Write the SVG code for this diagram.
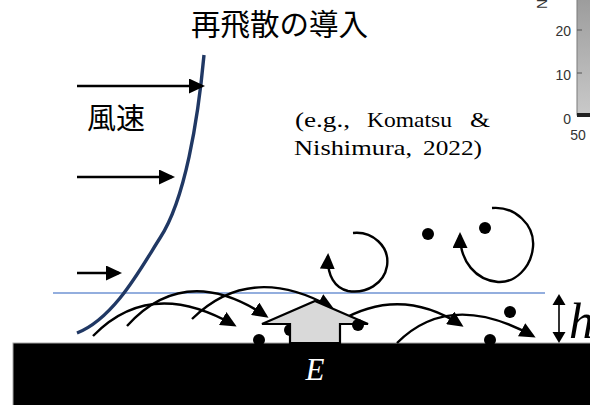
<svg xmlns="http://www.w3.org/2000/svg" width="590" height="405" viewBox="0 0 590 405">
  <style>
    .jp { font-family: "Noto Sans CJK JP", "Noto Sans CJK SC", sans-serif; fill: #000; }
    .cite { font-family: "Liberation Serif", serif; font-size: 21px; fill: #000; }
    .math { font-family: "Liberation Serif", serif; font-style: italic; }
    .axis { font-family: "Liberation Sans", sans-serif; font-size: 14px; fill: #333; }
    .arrow { fill: none; stroke: #000; stroke-width: 2.4; marker-end: url(#head); }
    .dot { fill: #000; }
  </style>
  <defs>
    <marker id="head" markerUnits="userSpaceOnUse" markerWidth="16" markerHeight="15" viewBox="0 0 16 15" refX="13" refY="7.5" orient="auto">
      <path d="M0,0 L16,7.5 L0,15 z" fill="#000"/>
    </marker>
    <linearGradient id="plotFill" x1="0" y1="0" x2="0" y2="1">
      <stop offset="0" stop-color="#9c9c9c"/>
      <stop offset="1" stop-color="#c9c9c9"/>
    </linearGradient>
  </defs>

  <rect width="590" height="405" fill="#fff"/>

  <!-- edge of a plot panel in the corner -->
  <g id="plot-fragment">
    <rect x="577" y="-2" width="20" height="117" fill="url(#plotFill)" stroke="#7a7a7a" stroke-width="1"/>
    <rect x="577" y="113" width="20" height="4" fill="#222"/>
    <line x1="577" y1="30" x2="582" y2="30" stroke="#555" stroke-width="1"/>
    <line x1="577" y1="73" x2="582" y2="73" stroke="#555" stroke-width="1"/>
    <text class="axis" x="571" y="36" text-anchor="end">20</text>
    <text class="axis" x="571" y="80" text-anchor="end">10</text>
    <text class="axis" x="571" y="124" text-anchor="end">0</text>
    <text class="axis" x="578" y="140" text-anchor="middle">50</text>
    <text class="axis" transform="translate(547,9) rotate(-90)">N</text>
  </g>

  <g id="title">
    <text class="jp" x="191" y="35" font-size="29.5">再飛散の導入</text>
  </g>

  <g id="wind-label">
    <text class="jp" x="87" y="129" font-size="29">風速</text>
  </g>

  <g id="citation">
    <text class="cite" y="127"><tspan x="295" textLength="55" lengthAdjust="spacingAndGlyphs">(e.g.,</tspan><tspan x="367" textLength="85" lengthAdjust="spacingAndGlyphs">Komatsu</tspan><tspan x="470" textLength="20" lengthAdjust="spacingAndGlyphs">&amp;</tspan></text>
    <text class="cite" y="155"><tspan x="294" textLength="118" lengthAdjust="spacingAndGlyphs">Nishimura,</tspan><tspan x="423" textLength="59" lengthAdjust="spacingAndGlyphs">2022)</tspan></text>
  </g>

  <!-- top of the saltation layer -->
  <g id="layer-top">
    <line x1="53" y1="293" x2="545" y2="293" stroke="#6f93d3" stroke-width="1.6"/>
  </g>

  <!-- ground surface -->
  <g id="ground">
    <rect x="13" y="343" width="580" height="65" fill="#000" stroke="#a6a6a6" stroke-width="1"/>
  </g>

  <g id="wind-profile">
    <path d="M204,55 C198,120 185,200 160,238 C142,266 115,318 77,333" fill="none" stroke="#203864" stroke-width="3.4"/>
  </g>

  <g id="connectors">
    <!-- wind speed arrows -->
    <line class="arrow" x1="77" y1="86" x2="202" y2="86"/>
    <line class="arrow" x1="77" y1="177" x2="172" y2="177"/>
    <line class="arrow" x1="77" y1="273" x2="119" y2="273"/>
    <!-- saltation trajectories -->
    <path class="arrow" d="M93,336 Q150,277 234,325"/>
    <path class="arrow" d="M127,326 Q185,262 266,316"/>
    <path class="arrow" d="M192,319 Q250,262 331,307"/>
    <path class="arrow" d="M338,322 Q400,285 461,325"/>
    <path class="arrow" d="M397,343 Q450,290 533,336"/>
    <!-- turbulent eddies -->
    <path class="arrow" d="M353,233 C372,231 390,246 387,266 C384,284 366,294 348,291 C335,288 327,276 328,256"/>
    <path class="arrow" d="M492,208 C515,206 535,225 533,247 C531,268 515,283 498,282 C476,280 460,262 460,235"/>
  </g>

  <g id="particles-under">
    <circle class="dot" cx="259" cy="340" r="6"/>
    <circle class="dot" cx="290" cy="330" r="6"/>
  </g>

  <!-- emission flux arrow -->
  <g id="emission">
    <polygon points="315,301 368,324 340,324 340,343 290,343 290,324 262,324" fill="#d9d9d9" stroke="#000" stroke-width="2.2" stroke-linejoin="miter"/>
    <text class="math" x="315" y="380" font-size="31" fill="#fff" text-anchor="middle">E</text>
  </g>

  <g id="particles">
    <circle class="dot" cx="358" cy="325" r="6"/>
    <circle class="dot" cx="428" cy="234" r="6"/>
    <circle class="dot" cx="485" cy="228" r="6"/>
    <circle class="dot" cx="510" cy="312" r="6"/>
    <circle class="dot" cx="490" cy="340" r="6"/>
  </g>

  <!-- layer height h -->
  <g id="height">
    <line x1="559" y1="303" x2="559" y2="334" stroke="#333" stroke-width="2"/>
    <polygon points="559,294 565.5,305 552.5,305" fill="#000"/>
    <polygon points="559,343 565.5,332 552.5,332" fill="#000"/>
    <text class="math" x="569" y="338" font-size="50" fill="#000">h</text>
  </g>
</svg>
